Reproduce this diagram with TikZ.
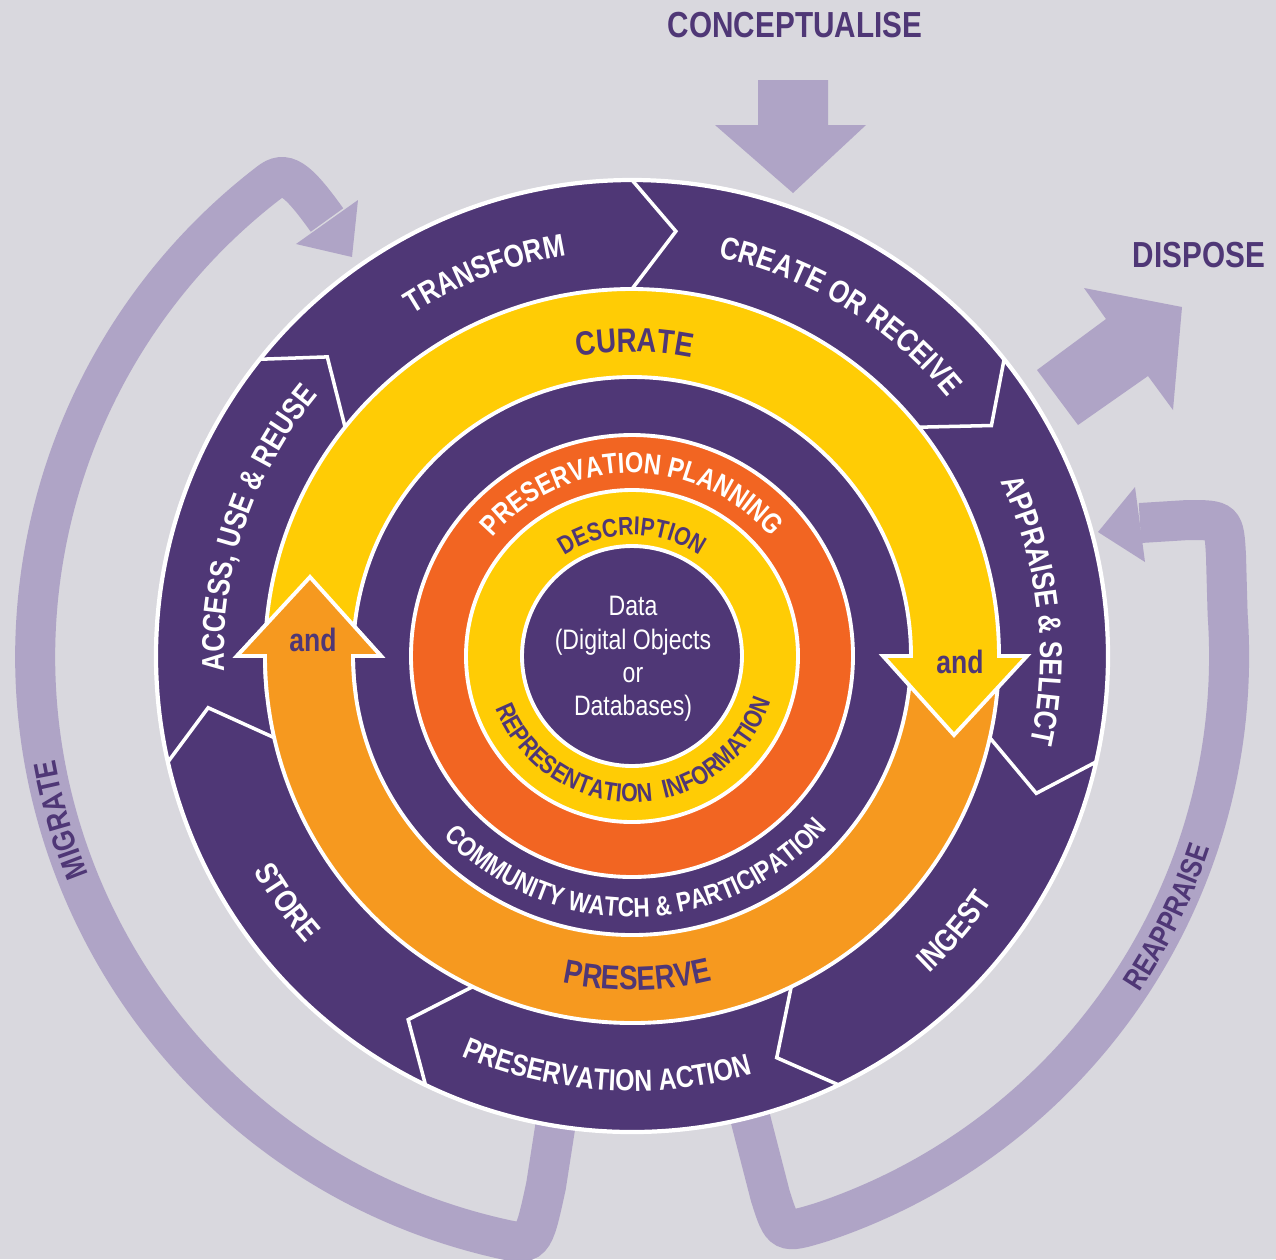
\documentclass[tikz,border=0pt]{standalone}
\usepackage{fontspec}
\newfontfamily\cnd[FakeStretch=0.82]{Liberation Sans}
\usetikzlibrary{decorations.text}

\definecolor{bg}{HTML}{D9D8DE}
\definecolor{purp}{HTML}{4F3776}
\definecolor{lav}{HTML}{AFA4C6}
\definecolor{yel}{HTML}{FFCC05}
\definecolor{org}{HTML}{F6991F}
\definecolor{rorg}{HTML}{F26522}

% label fonts: white and purple, bold condensed
\newcommand\wlbl[1]{\cnd\bfseries\fontsize{#1}{#1}\selectfont\color{white}}
\newcommand\plbl[1]{\cnd\bfseries\fontsize{#1}{#1}\selectfont\color{purp}}
\newcommand\andfont{\cnd\bfseries\fontsize{9.2}{9.2}\selectfont}

% text on an arc: {centre angle}{baseline radius}{half span}{format}{text}
% clockwise, letters facing outwards
\newcommand\cwtext[5]{\path[decorate,decoration={text along path,text align=center,text={|#4|#5}}]
  (#1+#3:#2) arc[start angle=#1+#3,end angle=#1-#3,radius=#2];}
% counter-clockwise, letters facing inwards
\newcommand\ccwtext[5]{\path[decorate,decoration={text along path,text align=center,text={|#4|#5}}]
  (#1-#3:#2) arc[start angle=#1-#3,end angle=#1+#3,radius=#2];}

\tikzset{
  ringline/.style={draw=white,line width=1.1pt},
  loopband/.style={draw=lav,line width=0.4cm},
  orangearrow/.style={fill=org,ringline},
  yellowarrow/.style={fill=yel,ringline}
}

\begin{document}
\begin{tikzpicture}[x=0.01cm,y=0.01cm]
\useasboundingbox (-632,-603) rectangle (644,656);
\fill[bg] (-632,-603) rectangle (644,656);

% ---- outer lilac loops: migrate and reappraise ----
\draw[loopband] (-72,-440) -- (-86,-530) .. controls (-99,-590) .. (-134,-582)
  arc[start angle=-103,end angle=-232.5,radius=597]
  .. controls (-347.2,486.1) and (-335.5,478.6) .. (-305,436);
\fill[lav] (-336,412) -- (-280,399) -- (-274,456) -- cycle;

\draw[loopband] (110,-430) -- (138.3,-539.9) .. controls (150.4,-578) .. (189,-566.3)
  arc[start angle=-71.55,end angle=4,radius=597]
  -- (594,100) .. controls (592,136) .. (556,136) -- (508,133);
\fill[lav] (503,169) -- (466,124) -- (513,94) -- cycle;

% conceptualise and dispose arrows
\fill[lav] (126,576) -- (196,576) -- (196,531) -- (234,531) -- (161,463) -- (83,531) -- (126,531) -- cycle;
\fill[lav] (405,286) -- (474,337) -- (452,368) -- (550,349) -- (541,246) -- (516,280) -- (446,231) -- cycle;

\node[text=purp,font=\cnd\bfseries\fontsize{10.3}{10.3}\selectfont] (concept) at (163,631) {CONCEPTUALISE};
\node[text=purp,font=\cnd\bfseries\fontsize{10.3}{10.3}\selectfont] (dispose) at (567,401) {DISPOSE};

\cwtext{196}{586}{30}{\plbl{9}}{MIGRATE}
\ccwtext{-26}{609}{30}{\plbl{8.6}}{REAPPRAISE}

% ---- sequential actions ring ----
\filldraw[fill=purp,draw=white,line width=1.2pt] (0,0) circle[radius=476];
\foreach \k in {0,...,6}{
  \draw[white,line width=1pt] ({90-51.4286*\k}:476) -- ({84.1-51.4286*\k}:427) -- ({90-51.4286*\k}:367);
}

% ---- preserve (orange) and curate (yellow) arrows ----
\path[orangearrow] (-3:367) arc[start angle=-3,end angle=-180,radius=367]
  -- (-395,0) -- (-322,79) -- (-251,0) -- (180:279)
  arc[start angle=180,end angle=357,radius=279] -- cycle;
\path[yellowarrow] (177:367) arc[start angle=177,end angle=0,radius=367]
  -- (395,0) -- (322,-79) -- (251,0) -- (0:279)
  arc[start angle=0,end angle=177,radius=279] -- cycle;
\begin{scope}
  \clip (-480,-40) rectangle (-200,120);
  \path[orangearrow] (-3:367) arc[start angle=-3,end angle=-180,radius=367]
    -- (-395,0) -- (-322,79) -- (-251,0) -- (180:279)
    arc[start angle=180,end angle=357,radius=279] -- cycle;
\end{scope}

% ---- inner rings ----
\path[fill=rorg,ringline] (0,0) circle[radius=221];
\path[fill=yel,ringline] (0,0) circle[radius=166];
\path[fill=purp,ringline] (0,0) circle[radius=110];

% ---- ring labels ----
\cwtext{111}{406}{45}{\wlbl{9}}{TRANSFORM}
\cwtext{58.5}{408}{45}{\wlbl{9}}{CREATE OR RECEIVE}
\cwtext{6.5}{408}{45}{\wlbl{9}}{APPRAISE {\&} SELECT}
\cwtext{161.2}{408}{45}{\wlbl{9}}{ACCESS, USE {\&} REUSE}
\ccwtext{-40.5}{435}{45}{\wlbl{9}}{INGEST}
\ccwtext{-93.5}{435}{45}{\wlbl{8.6}}{PRESERVATION ACTION}
\ccwtext{-144.5}{435}{45}{\wlbl{9}}{STORE}

\cwtext{89.5}{304}{50}{\plbl{9.6}}{CURATE}
\ccwtext{-89}{334}{50}{\plbl{9.6}}{PRESERVE}

\ccwtext{-88.8}{261}{75}{\wlbl{7.8}}{COMMUNITY WATCH {\&} PARTICIPATION}
\cwtext{90}{183}{75}{\wlbl{8.2}}{PRESERVATION PLANNING}
\cwtext{90}{121}{75}{\plbl{7.3}}{DESCRIPTION}
\ccwtext{-88.5}{146}{90}{\plbl{7.4}}{REPRESENTATION {\ }INFORMATION}

\node[text=purp,font=\andfont] (andL) at (-319,16) {and};
\node[text=purp,font=\andfont] (andR) at (328,-6) {and};

\node[text=white,align=center,font=\cnd\fontsize{8}{9.5}\selectfont] (data) at (1,-3)
  {Data\\(Digital Objects\\or\\Databases)};
\end{tikzpicture}
\end{document}
